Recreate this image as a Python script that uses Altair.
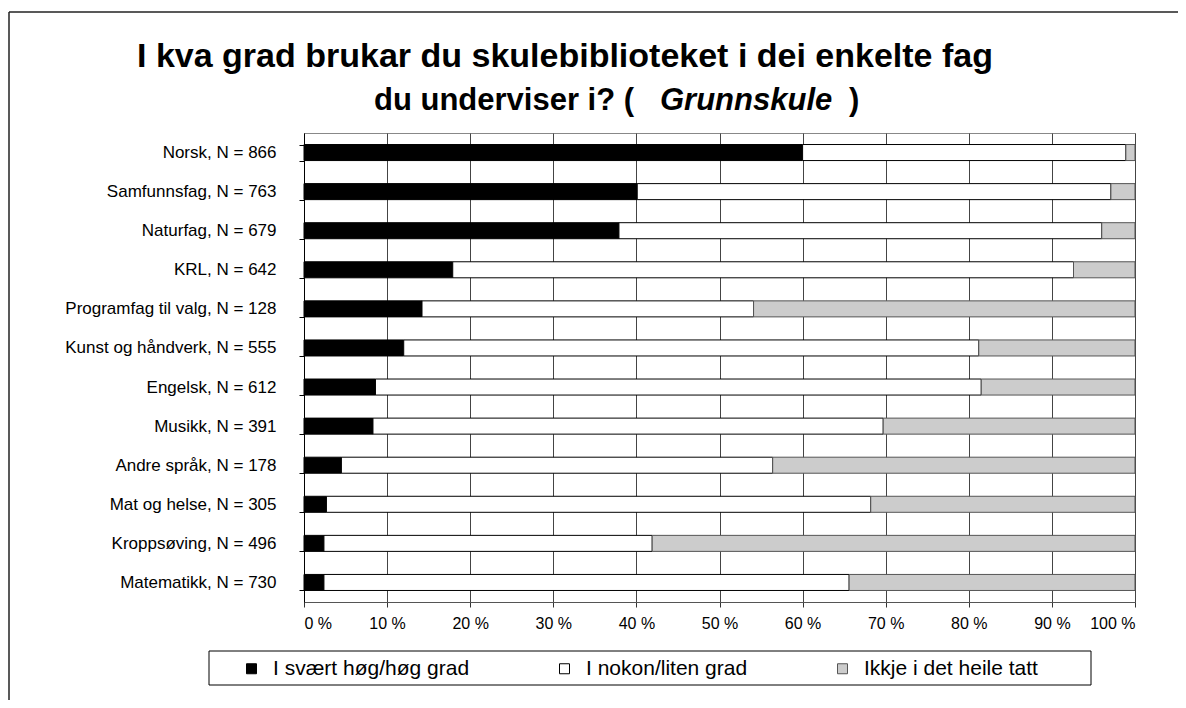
import altair as alt
import pandas as pd

categories = [
    "Norsk, N = 866",
    "Samfunnsfag, N = 763",
    "Naturfag, N = 679",
    "KRL, N = 642",
    "Programfag til valg, N = 128",
    "Kunst og håndverk, N = 555",
    "Engelsk, N = 612",
    "Musikk, N = 391",
    "Andre språk, N = 178",
    "Mat og helse, N = 305",
    "Kroppsøving, N = 496",
    "Matematikk, N = 730",
]
series = ["I svært høg/høg grad", "I nokon/liten grad", "Ikkje i det heile tatt"]
high = [60.0, 40.1, 37.9, 17.9, 14.2, 12.0, 8.6, 8.3, 4.5, 2.7, 2.4, 2.4]
some = [38.9, 57.0, 58.1, 74.7, 39.9, 69.2, 72.9, 61.4, 51.9, 65.5, 39.5, 63.2]
none_ = [1.1, 2.9, 4.0, 7.4, 45.9, 18.8, 18.5, 30.3, 43.6, 31.8, 58.1, 34.4]
x_ticks = [0, 10, 20, 30, 40, 50, 60, 70, 80, 90, 100]

title_line1 = "I kva grad brukar du skulebiblioteket i dei enkelte fag"
title_line2a = "du underviser i? ("
title_line2b = "Grunnskule"
title_line2c = ")"

rows = []
for i, cat in enumerate(categories):
    for j, (s, vals) in enumerate(zip(series, [high, some, none_])):
        rows.append({"cat": cat, "series": s, "value": vals[i], "idx": j})
df = pd.DataFrame(rows)

FONT = "Liberation Sans"
TF1 = 34
TF2 = 31

legend_opts = dict(
    title=None,
    orient="none",
    legendX=-63,
    legendY=525,
    direction="horizontal",
    symbolType="square",
    symbolSize=100,
    symbolStrokeWidth=1,
    labelFontSize=21,
    labelOffset=11,
    columnPadding=84,
    labelColor="#000000",
    labelLimit=400,
)

bars = alt.Chart(df).mark_bar(strokeWidth=1).encode(
    y=alt.Y(
        "cat:N",
        sort=categories,
        title=None,
        scale=alt.Scale(paddingInner=0.59, paddingOuter=0.295),
        axis=alt.Axis(
            tickBand="extent",
            ticks=True,
            tickSize=5,
            tickColor="#000000",
            domainColor="#000000",
            labelFontSize=17,
            labelPadding=23,
            labelColor="#000000",
            labelLimit=300,
            grid=False,
        ),
    ),
    x=alt.X(
        "value:Q",
        stack="zero",
        title=None,
        scale=alt.Scale(domain=[0, 100], nice=False),
        axis=alt.Axis(
            values=x_ticks,
            labelExpr="datum.value + ' %'",
            labelFontSize=16,
            labelColor="#000000",
            labelPadding=8,
            tickSize=5,
            tickColor="#333333",
            domainColor="#555555",
            grid=True,
            gridColor="#444444",
            gridWidth=1,
        ),
    ),
    fill=alt.Fill(
        "series:N",
        sort=series,
        scale=alt.Scale(domain=series, range=["#000000", "#ffffff", "#cccccc"]),
        legend=alt.Legend(**legend_opts),
    ),
    stroke=alt.Stroke(
        "series:N",
        sort=series,
        scale=alt.Scale(domain=series, range=["#000000", "#000000", "#555555"]),
        legend=alt.Legend(**legend_opts),
    ),
    order=alt.Order("idx:Q"),
)

one = pd.DataFrame({"t": [""]})

t1 = alt.Chart(pd.DataFrame({"t": [title_line1]})).mark_text(
    font=FONT, fontSize=TF1, fontWeight="bold", align="center", baseline="alphabetic", color="#000000"
).encode(text="t:N", x=alt.value(261), y=alt.value(-66))

t2a = alt.Chart(pd.DataFrame({"t": [title_line2a]})).mark_text(
    font=FONT, fontSize=TF2, fontWeight="bold", align="left", baseline="alphabetic", color="#000000"
).encode(text="t:N", x=alt.value(70), y=alt.value(-23))

t2b = alt.Chart(pd.DataFrame({"t": [title_line2b]})).mark_text(
    font=FONT, fontSize=TF2, fontWeight="bold", fontStyle="italic", align="left", baseline="alphabetic", color="#000000"
).encode(text="t:N", x=alt.value(356), y=alt.value(-23))

t2c = alt.Chart(pd.DataFrame({"t": [title_line2c]})).mark_text(
    font=FONT, fontSize=TF2, fontWeight="bold", align="left", baseline="alphabetic", color="#000000"
).encode(text="t:N", x=alt.value(545), y=alt.value(-23))

frame_left = alt.Chart(one).mark_rule(color="#222222", strokeWidth=1.5).encode(
    x=alt.value(-295), y=alt.value(-121), y2=alt.value(600)
)
frame_top = alt.Chart(one).mark_rule(color="#222222", strokeWidth=1.5).encode(
    x=alt.value(-295), x2=alt.value(900), y=alt.value(-121)
)
legend_box = alt.Chart(one).mark_rect(fill="#ffffff", fillOpacity=0, stroke="#000000", strokeWidth=1).encode(
    x=alt.value(-95), x2=alt.value(787), y=alt.value(518), y2=alt.value(552)
)

chart = alt.layer(frame_left, frame_top, legend_box, bars, t1, t2a, t2b, t2c).properties(
    width=831,
    height=469,
    autosize=alt.AutoSizeParams(type="none"),
    padding={"left": 296, "top": 125, "right": 43, "bottom": 98},
    background="#ffffff",
).configure(font=FONT).configure_view(stroke="#888888", strokeWidth=1)

chart.save("out.html", embed_options={"renderer": "svg", "actions": False})
